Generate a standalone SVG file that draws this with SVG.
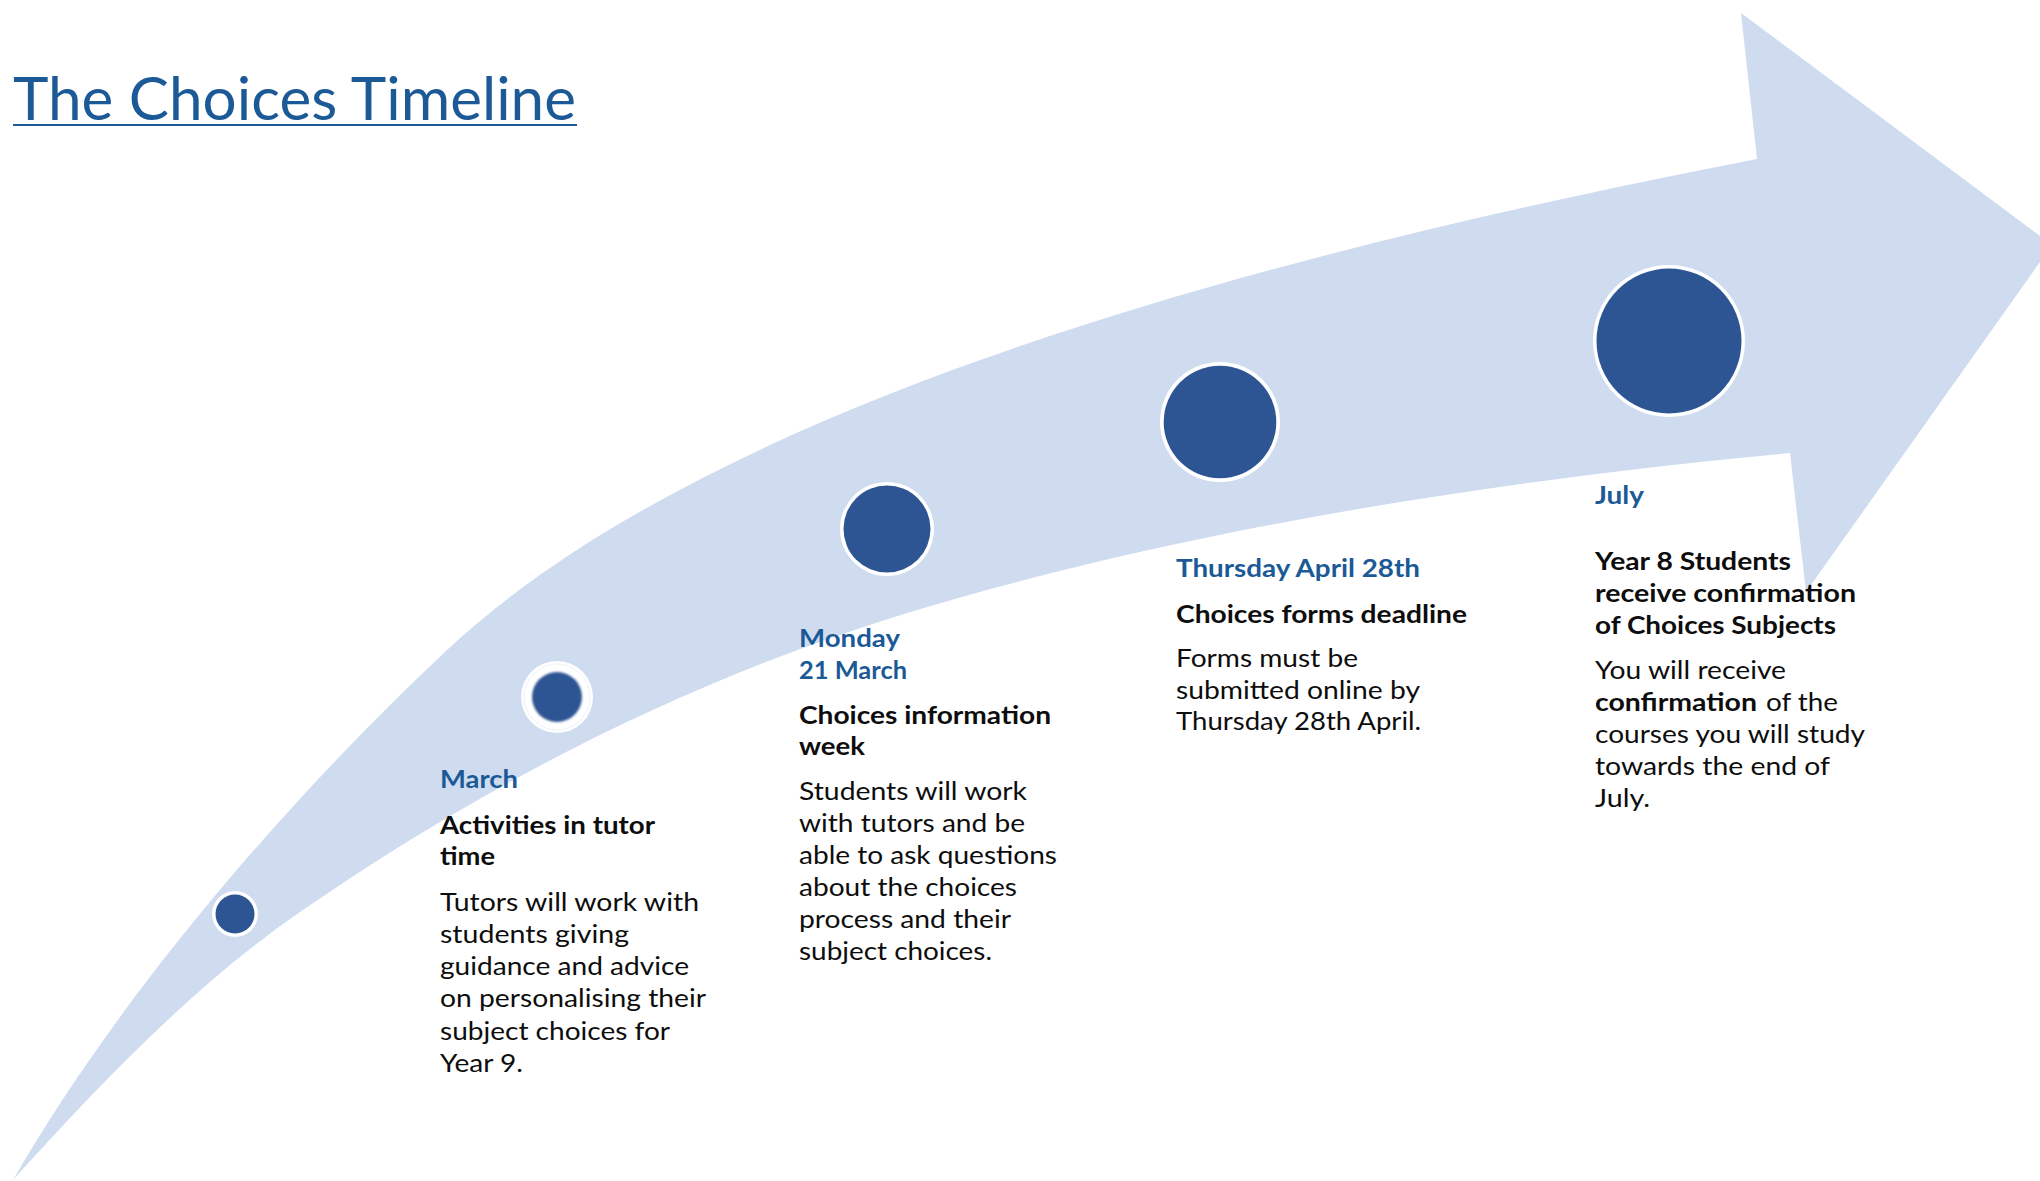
<svg xmlns="http://www.w3.org/2000/svg" width="2040" height="1181" viewBox="0 0 2040 1181">
<style>
.date{font-family:Lato,"Liberation Sans",sans-serif;font-weight:700;font-size:25.5px;fill:#1b5a96}
.head{font-family:Lato,"Liberation Sans",sans-serif;font-weight:700;font-size:25.5px;fill:#0d0d0d}
.body{font-family:Lato,"Liberation Sans",sans-serif;font-weight:400;font-size:25.5px;fill:#0d0d0d}
.ring{fill:#ffffff}
.dot{fill:#2e5593}
</style>
<defs>
<filter id="soft" x="-30%" y="-30%" width="160%" height="160%"><feGaussianBlur stdDeviation="1.3"/></filter>
</defs>
<rect width="2040" height="1181" fill="#ffffff"/>
<g id="title">
<text x="13" y="120" font-family="Lato,'Liberation Sans',sans-serif" font-size="60" fill="#1b5a96" textLength="563" lengthAdjust="spacingAndGlyphs">The Choices Timeline</text>
<line x1="13" y1="125" x2="577" y2="125" stroke="#1b5a96" stroke-width="2"/>
</g>
<g id="connectors">
<path id="arrow" fill="#cfdcf0" d="M 8 1188 L 13 1180 C 128 981 301 787 447 650 C 730 385 1340 240 1757 159 L 1741 13 L 2052 245 L 1806 592 L 1790 453 C 1501 480 1195 527 917 610 C 697 676 489 781 300 912 C 193 986 100 1084 13 1180 Z"/>
</g>
<g id="node1">
<circle class="ring" cx="235" cy="914" r="23"/>
<circle class="dot" cx="235" cy="914" r="19.5"/>
</g>
<g id="node2" transform="translate(-1 1.5)">
<circle class="ring" cx="558" cy="695.5" r="36"/>
<circle cx="558" cy="695.5" r="33" fill="none" stroke="#eef2f9" stroke-width="1"/>
<circle class="dot" cx="558" cy="695.5" r="25" filter="url(#soft)"/>
<text class="date" x="441" y="786" textLength="78" lengthAdjust="spacingAndGlyphs">March</text>
<text class="head" x="441" y="832" textLength="215" lengthAdjust="spacingAndGlyphs">Activities in tutor</text>
<text class="head" x="441" y="863" textLength="55" lengthAdjust="spacingAndGlyphs">time</text>
<text class="body" x="441" y="909" textLength="259" lengthAdjust="spacingAndGlyphs">Tutors will work with</text>
<text class="body" x="441" y="941" textLength="189" lengthAdjust="spacingAndGlyphs">students giving</text>
<text class="body" x="441" y="973.5" textLength="249" lengthAdjust="spacingAndGlyphs">guidance and advice</text>
<text class="body" x="441" y="1005.5" textLength="266" lengthAdjust="spacingAndGlyphs">on personalising their</text>
<text class="body" x="441" y="1038" textLength="230" lengthAdjust="spacingAndGlyphs">subject choices for</text>
<text class="body" x="441" y="1070" textLength="83" lengthAdjust="spacingAndGlyphs">Year 9.</text>
</g>
<g id="node3" transform="translate(-1 1.5)">
<circle class="ring" cx="888" cy="527.5" r="47"/>
<circle class="dot" cx="888" cy="527.5" r="43.5"/>
<text class="date" x="800" y="645" textLength="101" lengthAdjust="spacingAndGlyphs">Monday</text>
<text class="date" x="800" y="677" textLength="108" lengthAdjust="spacingAndGlyphs">21 March</text>
<text class="head" x="800" y="722" textLength="252" lengthAdjust="spacingAndGlyphs">Choices information</text>
<text class="head" x="800" y="753" textLength="66" lengthAdjust="spacingAndGlyphs">week</text>
<text class="body" x="800" y="798" textLength="228" lengthAdjust="spacingAndGlyphs">Students will work</text>
<text class="body" x="800" y="830" textLength="226" lengthAdjust="spacingAndGlyphs">with tutors and be</text>
<text class="body" x="800" y="862" textLength="258" lengthAdjust="spacingAndGlyphs">able to ask questions</text>
<text class="body" x="800" y="894" textLength="218" lengthAdjust="spacingAndGlyphs">about the choices</text>
<text class="body" x="800" y="926" textLength="212" lengthAdjust="spacingAndGlyphs">process and their</text>
<text class="body" x="800" y="958" textLength="193" lengthAdjust="spacingAndGlyphs">subject choices.</text>
</g>
<g id="node4" transform="translate(-1 1.5)">
<circle class="ring" cx="1221" cy="420.5" r="60"/>
<circle class="dot" cx="1221" cy="420.5" r="56.3"/>
<text class="date" x="1177" y="575" textLength="244" lengthAdjust="spacingAndGlyphs">Thursday April 28th</text>
<text class="head" x="1177" y="621" textLength="291" lengthAdjust="spacingAndGlyphs">Choices forms deadline</text>
<text class="body" x="1177" y="665" textLength="182" lengthAdjust="spacingAndGlyphs">Forms must be</text>
<text class="body" x="1177" y="697" textLength="244" lengthAdjust="spacingAndGlyphs">submitted online by</text>
<text class="body" x="1177" y="728" textLength="245" lengthAdjust="spacingAndGlyphs">Thursday 28th April.</text>
</g>
<g id="node5" transform="translate(-1 1.5)">
<circle class="ring" cx="1670" cy="339.5" r="76"/>
<circle class="dot" cx="1670" cy="339.5" r="72.5"/>
<text class="date" x="1596" y="502" textLength="49" lengthAdjust="spacingAndGlyphs">July</text>
<text class="head" x="1596" y="568" textLength="196" lengthAdjust="spacingAndGlyphs">Year 8 Students</text>
<text class="head" x="1596" y="600" textLength="261" lengthAdjust="spacingAndGlyphs">receive confirmation</text>
<text class="head" x="1596" y="632" textLength="241" lengthAdjust="spacingAndGlyphs">of Choices Subjects</text>
<text class="body" x="1596" y="677" textLength="191" lengthAdjust="spacingAndGlyphs">You will receive</text>
<text class="head" x="1596" y="709" textLength="162" lengthAdjust="spacingAndGlyphs">confirmation</text>
<text class="body" x="1767" y="709" textLength="72" lengthAdjust="spacingAndGlyphs">of the</text>
<text class="body" x="1596" y="741" textLength="270" lengthAdjust="spacingAndGlyphs">courses you will study</text>
<text class="body" x="1596" y="773" textLength="235" lengthAdjust="spacingAndGlyphs">towards the end of</text>
<text class="body" x="1596" y="805" textLength="55" lengthAdjust="spacingAndGlyphs">July.</text>
</g>
</svg>
